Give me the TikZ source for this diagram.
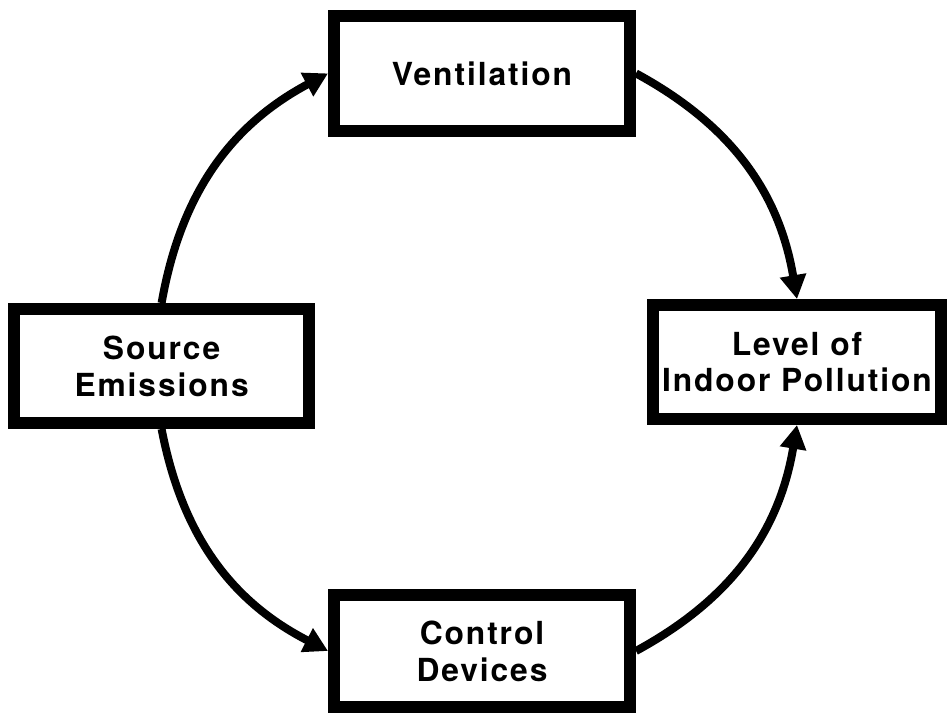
\documentclass[tikz,border=0pt]{standalone}
\usepackage{fontspec}
\newfontfamily\hopfont{TeX Gyre Heros}[LetterSpace=6]
\usetikzlibrary{arrows.meta}

\begin{document}
\begin{tikzpicture}[>={Triangle[length=17pt,width=18pt]},line join=miter,
	hop/.style={draw,line width=8.5pt,minimum width=7.4cm,minimum height=2.875cm,align=center,inner sep=0pt,
		font=\hopfont\bfseries\fontsize{22.6}{26.2}\selectfont},
	mui/.style={->,line width=5.7pt}]
	\useasboundingbox (0,0) rectangle (23.775,17.875);
	%Các khối
	\path (12.05,16.04) node[hop] (V) {Ventilation}
	(4.04,8.725) node[hop,minimum width=7.375cm,minimum height=2.85cm] (S) {Source\\Emissions}
	(19.925,8.825) node[hop,minimum width=7.2cm,minimum height=2.85cm] (L) {Level of\\Indoor Pollution}
	(12.05,1.6) node[hop,minimum height=2.8cm] (C) {Control\\Devices};
	%Mũi tên
	\draw[mui] (S.north) to[bend left=26] (V.west);
	\draw[mui] (V.east) to[bend left=26] (L.north);
	\draw[mui] (S.south) to[bend right=26] (C.west);
	\draw[mui] (C.east) to[bend right=26] (L.south);
\end{tikzpicture}
\end{document}
